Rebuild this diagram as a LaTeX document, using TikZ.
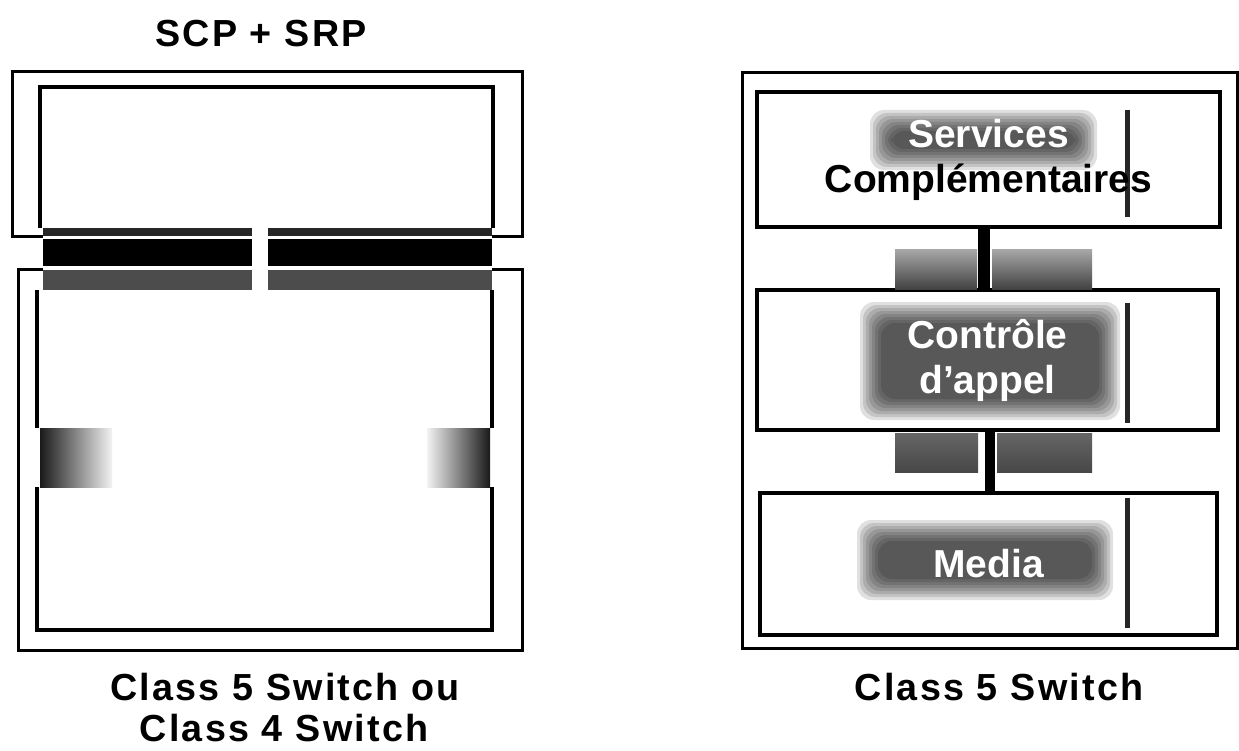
\documentclass[tikz,border=0pt]{standalone}
\usepackage{fontspec}
\setmainfont{Liberation Sans}
\newfontfamily\labelfont[LetterSpace=6]{Liberation Sans}
\begin{document}
\begin{tikzpicture}[x=1pt,y=-1pt,
  frame/.style={draw=black, line width=3pt},
  edge/.style={draw=black, line width=3.5pt},
  lbl/.style={font=\labelfont\bfseries\fontsize{37.7}{44}\selectfont, inner sep=0pt, anchor=base},
  rbox/.style={draw=black, line width=3.5pt, inner sep=0pt, align=center,
    font=\bfseries\fontsize{39}{45}\selectfont},
  conn/.style={draw=black, line width=#1},
  conn/.default=11pt,
  speck/.style={top color=black!35, bottom color=black!75},
  stripe/.style={draw=black!85, line width=5pt}]
\useasboundingbox (0,0) rectangle (1239,751);
\fill[white] (0,0) rectangle (1239,751);

% ---------- left panel ----------
\node[lbl] (title) at (261,47) {SCP + SRP};
% outer top box (SCP+SRP)
\draw[frame] (43,237) -| (12,72) -| (522,237) -- (492,237);
% inner top box
\draw[edge] (40,228) -- (40,87) -- (493,87) -- (493,228);
\fill[black!85] (43,228) rectangle (252,236);
\fill[black!85] (268,228) rectangle (492,236);
% black bars
\fill[black] (43,239) rectangle (252,266);
\fill[black] (268,239) rectangle (492,266);
% speckled strips
\fill[black!70] (43,270) rectangle (252,290);
\fill[black!70] (268,270) rectangle (492,290);
% lower outer box
\draw[frame] (43,270) -| (18,650) -| (522,270) -- (492,270);
% lower inner box
\draw[edge] (37,290) -- (37,428);
\draw[edge] (37,487) -- (37,630) -- (492,630) -- (492,487);
\draw[edge] (492,428) -- (492,290);
% side gradient blocks
\shade[left color=black!90, right color=black!5] (40,428) rectangle (112,487);
\shade[left color=black!5, right color=black!90] (427,428) rectangle (490,487);

\node[lbl] (lab1) at (285,700) {Class 5 Switch ou};
\node[lbl] (lab2) at (284,741) {Class 4 Switch};

% ---------- right panel ----------
\draw[frame] (742,73) rectangle (1237,648);

% text halos
\foreach \xa/\ya/\xb/\yb in {870/110/1097/170, 860/302/1120/420, 857/520/1113/600}{
  \foreach \i in {0,3,...,21}{
    \fill[black, opacity=0.12, rounded corners=14pt] ({\xa+\i},{\ya+\i}) rectangle ({\xb-\i},{\yb-\i});
  }
}

% dark vertical stripes
\draw[stripe] (1127,110) -- (1127,217);
\draw[stripe] (1127,303) -- (1127,423);
\draw[stripe] (1127,498) -- (1127,628);

\node[rbox, minimum width=463pt, minimum height=135pt] (svc) at (988.5,159.5)
  {\textcolor{white}{Services}\\Complémentaires};
\node[rbox, minimum width=461pt, minimum height=140pt] (ctl) at (987.5,360)
  {\textcolor{white}{Contrôle}\\\textcolor{white}{d'appel}};
\node[rbox, minimum width=457pt, minimum height=142pt] (med) at (988.5,564)
  {\textcolor{white}{Media}};

% shaded patches beside connectors
\shade[speck] (895,250) rectangle (977,290);
\shade[speck] (992,250) rectangle (1092,290);
\shade[top color=black!60, bottom color=black!72] (895,433) rectangle (978,472);
\shade[top color=black!60, bottom color=black!72] (997,433) rectangle (1092,472);

% connectors
\draw[conn=12pt] ([xshift=-4.5pt]svc.south) -- ([xshift=-3.5pt]ctl.north);
\draw[conn=10pt] ([xshift=2.5pt]ctl.south) -- ([xshift=1.5pt]med.north);

\node[lbl] (lab3) at (999,700) {Class 5 Switch};
\end{tikzpicture}
\end{document}
